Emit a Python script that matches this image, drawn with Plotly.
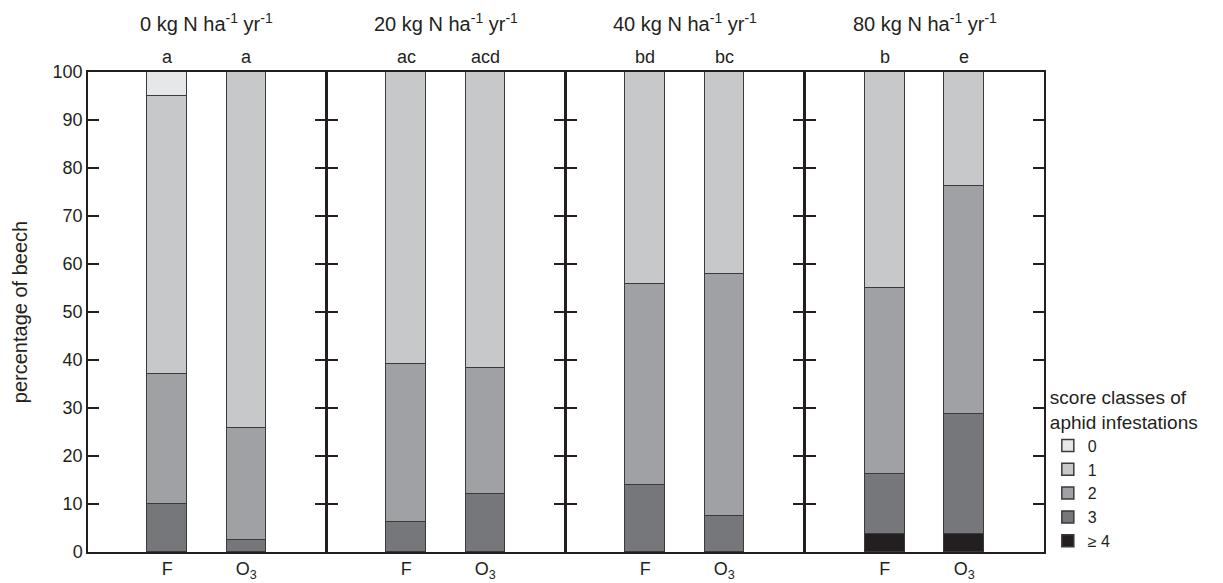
import plotly.graph_objects as go

# Nitrogen treatments (one panel each) and the two exposure groups per panel
panel_titles = [
    "0 kg N ha<sup>-1</sup> yr<sup>-1</sup>",
    "20 kg N ha<sup>-1</sup> yr<sup>-1</sup>",
    "40 kg N ha<sup>-1</sup> yr<sup>-1</sup>",
    "80 kg N ha<sup>-1</sup> yr<sup>-1</sup>",
]
treatments = ["F", "O<sub>3</sub>"]
letters = [["a", "a"], ["ac", "acd"], ["bd", "bc"], ["b", "e"]]

# Percentage of beech per score class, [F, O3] for each nitrogen level
score_ge4 = [[0.0, 0.0], [0.0, 0.0], [0.0, 0.0], [3.8, 3.8]]
score_3 = [[10.0, 2.6], [6.2, 12.0], [14.0, 7.4], [12.4, 25.0]]
score_2 = [[27.0, 23.2], [32.9, 26.3], [41.8, 50.6], [38.8, 47.5]]
score_1 = [[58.0, 74.2], [60.9, 61.7], [44.2, 42.0], [45.0, 23.7]]
score_0 = [[5.0, 0.0], [0.0, 0.0], [0.0, 0.0], [0.0, 0.0]]

class_labels = ["\u2265 4", "3", "2", "1", "0"]  # stacked from bottom to top
class_values = [score_ge4, score_3, score_2, score_1, score_0]
class_colors = ["#231f20", "#76777a", "#a0a1a4", "#c7c8ca", "#e6e7e8"]

FONT = "Liberation Sans, Arial, sans-serif"
INK = "#231f20"
LINE_W = 1.5

WIDTH, HEIGHT = 1223, 583
MARGIN = dict(l=88, r=179, t=72, b=31, autoexpand=False)
plot_w = WIDTH - MARGIN["l"] - MARGIN["r"]
# neighbouring panels overlap by one line width so their borders coincide
gap = LINE_W / plot_w
n_panels = len(panel_titles)

fig = go.Figure()
x_pos = [1, 2]
for p in range(n_panels):
    xa = "x" if p == 0 else f"x{p + 1}"
    ya = "y" if p == 0 else f"y{p + 1}"
    for label, values, color in zip(class_labels, class_values, class_colors):
        fig.add_trace(
            go.Bar(
                x=x_pos,
                y=values[p],
                name=label,
                width=0.5,
                xaxis=xa,
                yaxis=ya,
                marker=dict(color=color, line=dict(color="#3a3a3a", width=LINE_W)),
                showlegend=(p == 0),
                hovertemplate="%{y}%<extra>" + label + "</extra>",
            )
        )

    left = p / n_panels
    right = (p + 1) / n_panels - (gap if p < n_panels - 1 else 0)
    xkey = "xaxis" if p == 0 else f"xaxis{p + 1}"
    ykey = "yaxis" if p == 0 else f"yaxis{p + 1}"
    fig.update_layout(**{
        xkey: dict(
            domain=[left, right],
            anchor=ya,
            range=[0, 3],
            tickvals=x_pos,
            ticktext=treatments,
            ticks="",
            showline=True,
            mirror=True,
            linecolor=INK,
            linewidth=LINE_W,
            showgrid=False,
            zeroline=False,
            fixedrange=True,
            tickfont=dict(size=18, color=INK, family=FONT),
        ),
        ykey: dict(
            anchor=xa,
            range=[0, 100],
            dtick=10,
            ticks="inside",
            ticklen=11,
            tickwidth=LINE_W,
            tickcolor=INK,
            showline=True,
            mirror="ticks",
            linecolor=INK,
            linewidth=LINE_W,
            showgrid=False,
            zeroline=False,
            showticklabels=(p == 0),
            tickfont=dict(size=18, color=INK, family=FONT),
        ),
    })

    # panel heading and significance letters above each bar
    fig.add_annotation(
        x=1.5, y=1.104, xref=xa, yref="paper",
        text=panel_titles[p], showarrow=False,
        font=dict(size=20, color=INK, family=FONT),
        yanchor="middle",
    )
    for i, letter in enumerate(letters[p]):
        fig.add_annotation(
            x=x_pos[i], y=1.031, xref=xa, yref="paper",
            text=letter, showarrow=False,
            font=dict(size=18, color=INK, family=FONT),
            yanchor="middle",
        )

fig.update_layout(
    yaxis_title=dict(text="percentage of beech", font=dict(size=20, color=INK, family=FONT), standoff=20),
    width=WIDTH,
    height=HEIGHT,
    margin=MARGIN,
    barmode="stack",
    bargap=0,
    plot_bgcolor="white",
    paper_bgcolor="white",
    font=dict(family=FONT, color=INK),
    legend=dict(
        title=dict(text="score classes of<br>aphid infestations", font=dict(size=19, family=FONT, color=INK)),
        traceorder="reversed",
        x=1.004,
        xanchor="left",
        y=0.36,
        yanchor="top",
        font=dict(size=16, family=FONT, color=INK),
        bgcolor="rgba(0,0,0,0)",
        itemwidth=30,
    ),
)

fig.write_html("out.html")
